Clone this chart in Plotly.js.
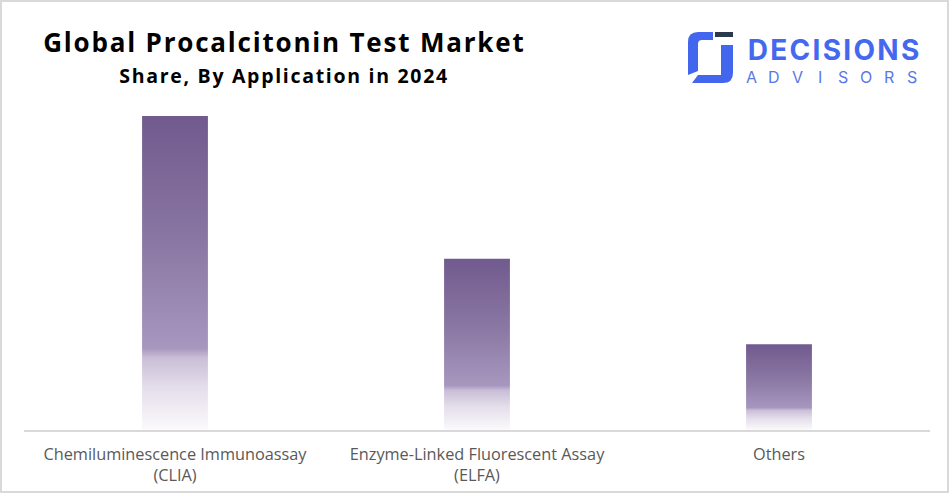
<!DOCTYPE html>
<html>
<head>
<meta charset="utf-8">
<script src="https://cdn.plot.ly/plotly-3.0.1.min.js"></script>
<style>
  html, body { margin: 0; padding: 0; background: #ffffff; }
  #frame { width: 949px; height: 493px; box-sizing: border-box; border: 2px solid #D9D9D9; position: relative; overflow: hidden; }
  #chart { position: absolute; left: -2px; top: -2px; width: 949px; height: 493px; }
</style>
</head>
<body>
<div id="frame"><div id="chart"></div></div>
<script>
// ---- data ----
const categories = [
  "Chemiluminescence Immunoassay<br>(CLIA)",
  "Enzyme-Linked Fluorescent Assay<br>(ELFA)",
  "Others"
];
const shares = [55, 30, 15];

const titleText = "Global Procalcitonin Test Market";
const subtitleText = "Share, By Application in 2024";
const brandTop = "DECISIONS";
const brandBottom = ["A", "D", "V", "I", "S", "O", "R", "S"];

// ---- layout helpers (pixel -> paper) ----
const W = 949, H = 493;
const M = { l: 24, r: 19, t: 100, b: 63 };
const PW = W - M.l - M.r, PH = H - M.t - M.b;
const px = x => (x - M.l) / PW;
const py = y => (H - M.b - y) / PH;

// letter spacing (px) applied to the first annotations after drawing
const spacing = [1.8, 1.7, 2.3];

const annotations = [
  { text: titleText, x: px(284), y: py(42), xref: "paper", yref: "paper", xanchor: "center", yanchor: "middle",
    showarrow: false, font: { family: "Open Sans, sans-serif", size: 26, color: "#000000", weight: 700 } },
  { text: subtitleText, x: px(284), y: py(75), xref: "paper", yref: "paper", xanchor: "center", yanchor: "middle",
    showarrow: false, font: { family: "Open Sans, sans-serif", size: 19.5, color: "#000000", weight: 700 } },
  { text: brandTop, x: px(834), y: py(50), xref: "paper", yref: "paper", xanchor: "center", yanchor: "middle",
    showarrow: false, font: { family: "Inter, sans-serif", size: 28, color: "#4468EE", weight: 700 } }
];
brandBottom.forEach((ch, i) => {
  annotations.push({ text: ch, x: px(751 + i * 23.07), y: py(77), xref: "paper", yref: "paper",
    xanchor: "center", yanchor: "middle", showarrow: false,
    font: { family: "Inter, sans-serif", size: 16, color: "#5A78E8", weight: 400 } });
});

const logoSvg = '<svg xmlns="http://www.w3.org/2000/svg" viewBox="0 0 45 52" width="45" height="52">' +
  '<path fill="#4366EE" d="M25 1 L25 9 L14 9 Q10 9 10 13 L10 40 L0 44 L0 11 Q0 1 10 1 Z"/>' +
  '<path fill="#4366EE" d="M33 14 L45 14 L45 42 Q45 52 35 52 L4 52 L10 44 L33 44 Z"/>' +
  '<rect fill="#2B3A4A" x="27" y="1" width="18" height="5"/>' +
  '</svg>';

const trace = {
  type: "bar",
  x: categories,
  y: shares,
  width: 0.218,
  marker: { color: "#8E7BA8", line: { width: 0 } },
  hoverinfo: "x+y"
};

const layout = {
  width: W, height: H,
  margin: M,
  paper_bgcolor: "rgba(0,0,0,0)",
  plot_bgcolor: "rgba(0,0,0,0)",
  showlegend: false,
  xaxis: {
    showline: true, linecolor: "#D9D9D9", linewidth: 1.5,
    ticks: "", showgrid: false, zeroline: false,
    ticklabelstandoff: 9,
    tickfont: { family: "Open Sans, sans-serif", size: 16.3, color: "#595959" },
    fixedrange: true
  },
  yaxis: {
    range: [0, 57.8], visible: false, showgrid: false, zeroline: false, fixedrange: true
  },
  annotations: annotations,
  images: [{
    source: "data:image/svg+xml;charset=utf-8," + encodeURIComponent(logoSvg),
    xref: "paper", yref: "paper",
    x: px(688), y: py(31), sizex: 45 / PW, sizey: 52 / PH,
    xanchor: "left", yanchor: "top", sizing: "stretch", layer: "above"
  }]
};

function finish() {
  const svg = document.querySelector("#chart .main-svg");
  if (!svg) return;
  let defs = svg.querySelector("defs");
  if (!defs) { defs = document.createElementNS("http://www.w3.org/2000/svg", "defs"); svg.insertBefore(defs, svg.firstChild); }
  if (!document.getElementById("barGrad")) {
    const g = document.createElementNS("http://www.w3.org/2000/svg", "linearGradient");
    g.setAttribute("id", "barGrad");
    g.setAttribute("x1", "0"); g.setAttribute("y1", "0");
    g.setAttribute("x2", "0"); g.setAttribute("y2", "1");
    const stops = [[0, "#715A8E"], [0.4, "#8A77A3"], [0.74, "#A797BF"], [0.77, "#C9BED7"], [0.86, "#E3DDEA"], [1, "#FBFAFC"]];
    stops.forEach(([o, c]) => {
      const s = document.createElementNS("http://www.w3.org/2000/svg", "stop");
      s.setAttribute("offset", o); s.setAttribute("stop-color", c);
      g.appendChild(s);
    });
    defs.appendChild(g);
  }
  document.querySelectorAll("#chart .bars .point path").forEach(p => { p.style.fill = "url(#barGrad)"; });
  const anns = document.querySelectorAll("#chart .annotation text");
  spacing.forEach((ls, i) => { if (anns[i]) anns[i].style.letterSpacing = ls + "px"; });
}

Plotly.newPlot("chart", [trace], layout, { displayModeBar: false, staticPlot: true }).then(finish);
</script>
</body>
</html>
